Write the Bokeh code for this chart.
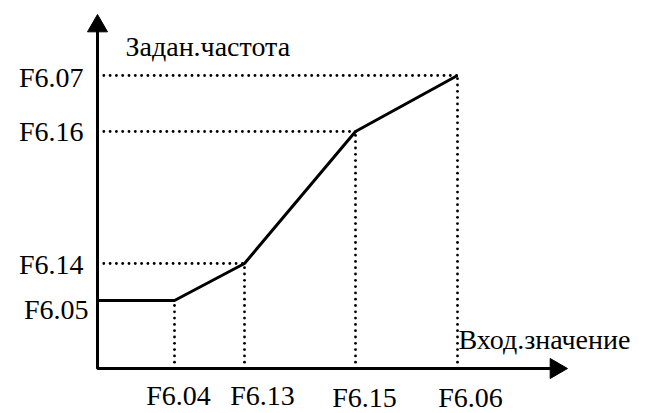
import numpy as np
from bokeh.plotting import figure
from bokeh.models import Range1d
from bokeh.core.properties import value
from bokeh.embed import file_html
from bokeh.resources import INLINE

# ---- data (schematic units, origin at axes crossing) ----
x_labels = ["F6.04", "F6.13", "F6.15", "F6.06"]
x_ticks = [77, 147, 258, 360]
y_labels = ["F6.05", "F6.14", "F6.16", "F6.07"]
y_ticks = [68, 105, 237, 293]
y_title = "Задан.частота"
x_title = "Вход.значение"
x_axis_end = 470
y_axis_end = 354

p = figure(width=663, height=413, x_range=Range1d(-97, 566), y_range=Range1d(-45, 368),
           output_backend="svg", toolbar_location=None, min_border=0,
           x_axis_location=None, y_axis_location=None)
p.grid.visible = False
p.outline_line_color = None

# texts
p.text(x=[0], y=[y_axis_end], text=[y_title], text_font=value("Liberation Serif"),
       text_font_size=value("28px"), text_baseline="middle", text_color="black",
       x_offset=[28], y_offset=[32])
p.text(x=[x_ticks[-1]], y=[0], text=[x_title], text_font=value("Liberation Serif"),
       text_font_size=value("28px"), text_baseline="middle", text_color="black",
       x_offset=[1], y_offset=[-29])
p.text(x=[0] * len(y_ticks), y=y_ticks, text=y_labels, text_font=value("Liberation Serif"),
       text_font_size=value("28px"), text_baseline="middle", text_color="black",
       text_align="right", x_offset=[-9, -14, -14, -14], y_offset=[9, 1, 0, 2])
p.text(x=x_ticks, y=[0] * len(x_ticks), text=x_labels, text_font=value("Liberation Serif"),
       text_font_size=value("28px"), text_baseline="middle", text_color="black",
       text_align="center", x_offset=[4, 18, 9, 13], y_offset=[27, 27, 29, 29])

# dotted guide lines drawn as dot markers
step = 6.3
dot_x, dot_y = [], []
for xt, yt in zip(x_ticks, y_ticks):
    ys = np.arange(step, yt + 0.5, step)
    dot_x.extend([xt] * len(ys))
    dot_y.extend(ys.tolist())
for xt, yt in zip(x_ticks[1:], y_ticks[1:]):
    xs = np.arange(step, xt + 0.5, step)
    dot_x.extend(xs.tolist())
    dot_y.extend([yt] * len(xs))
p.scatter(x=dot_x, y=dot_y, marker="circle", size=2.8, fill_color="black", line_color=None)

# characteristic curve
curve_x = [0] + x_ticks
curve_y = [y_ticks[0]] + y_ticks
p.line(curve_x, curve_y, line_color="black", line_width=3)

# axes (single polyline through the origin) with arrow heads
head = 20
tip_off = head / 2 * np.sqrt(3) * 2 / 3
p.line([0, 0, x_axis_end - 10], [y_axis_end - 10, 0, 0], line_color="black", line_width=3)
p.scatter(x=[0, x_axis_end - tip_off], y=[y_axis_end - tip_off, 0], marker="triangle",
          size=head, angle=[0, -np.pi / 2], fill_color="black", line_color="black", line_width=1)

open("out.html", "w").write(file_html(p, INLINE))
